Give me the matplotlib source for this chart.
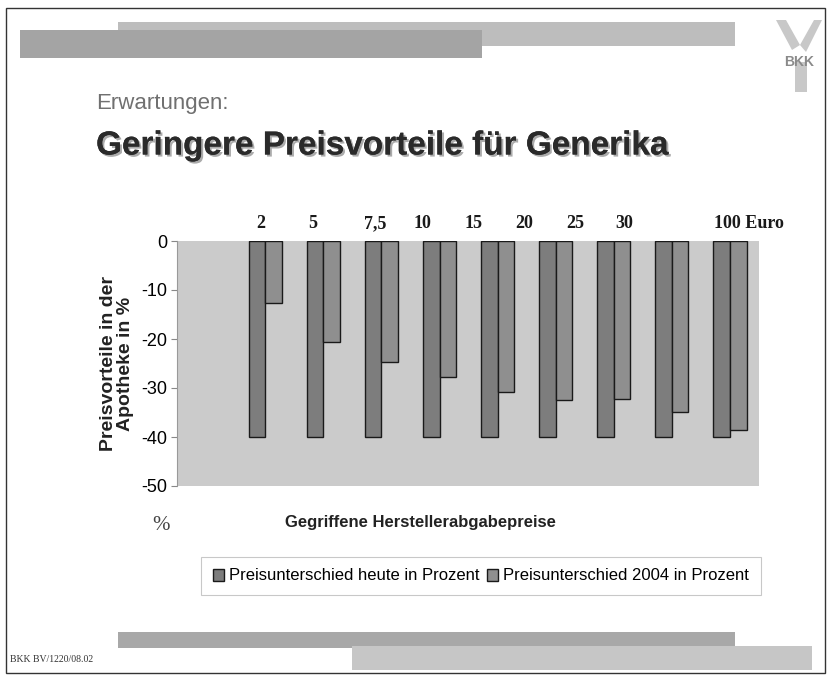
import matplotlib
matplotlib.use("Agg")
import matplotlib.pyplot as plt
import matplotlib.patches as mpatches
import matplotlib.patheffects as pe
import numpy as np

# data
preise = ["2", "5", "7,5", "10", "15", "20", "25", "30", "100 Euro"]
label_x = [-0.07, 0.81, 1.90, 2.70, 3.59, 4.45, 5.34, 6.18, 8.33]
heute = [-40, -40, -40, -40, -40, -40, -40, -40, -40]
vorteil_2004 = [-12.7, -20.7, -24.7, -27.8, -30.8, -32.5, -32.2, -34.9, -38.6]
serie_namen = ["Preisunterschied heute in Prozent", "Preisunterschied 2004 in Prozent"]

sans = "Liberation Sans"
serif = "Liberation Serif"

fig = plt.figure(figsize=(8.27, 6.75), dpi=100)
W, H = 827.0, 675.0

def fx(px):
    return px / W

def fy(py):
    return 1 - py / H

# rahmen
fig.patches.append(mpatches.Rectangle((fx(6), fy(673)), fx(819), fy(8) - fy(673),
                                      transform=fig.transFigure, fill=False, edgecolor="#333333", lw=1.0))

# deko-balken oben / unten
def band(x0, y0, x1, y1, farbe):
    fig.patches.append(mpatches.Rectangle((fx(x0), fy(y1)), fx(x1 - x0), fy(y0) - fy(y1),
                                          transform=fig.transFigure, facecolor=farbe, edgecolor="none"))

band(118, 22, 735, 46, "#bdbdbd")
band(20, 30, 482, 58, "#a4a4a4")
band(118, 632, 735, 648, "#a8a8a8")
band(352, 646, 812, 670, "#c6c6c6")

# logo
fig.patches.append(mpatches.Polygon([(fx(776), fy(20)), (fx(786), fy(20)), (fx(800), fy(45)), (fx(792), fy(50))],
                                    transform=fig.transFigure, facecolor="#c8c8c8", edgecolor="none"))
fig.patches.append(mpatches.Polygon([(fx(814), fy(20)), (fx(822), fy(20)), (fx(806), fy(52)), (fx(800), fy(45))],
                                    transform=fig.transFigure, facecolor="#c8c8c8", edgecolor="none"))
fig.patches.append(mpatches.Rectangle((fx(795), fy(92)), fx(12), fy(62) - fy(92),
                                      transform=fig.transFigure, facecolor="#c8c8c8", edgecolor="none"))
fig.text(fx(784), fy(62), "BKK", fontsize=10, color="#8a8a8a", family=sans, fontweight="bold", va="center")

# ueberschriften
fig.text(fx(96), fy(103), "Erwartungen:", fontsize=16, color="#707070", family=sans, va="center")
fig.text(fx(96), fy(146), "Geringere Preisvorteile für Generika", fontsize=24, fontweight="bold",
         color="#2a2a2a", family=sans, va="center",
         path_effects=[pe.withSimplePatchShadow(offset=(1.5, -1.5), shadow_rgbFace="#888888", alpha=0.7), pe.Normal()])

# diagramm
ax = fig.add_axes([fx(177), fy(486), fx(759 - 177), fy(241) - fy(486)])
ax.set_facecolor("#cbcbcb")
x = np.arange(len(preise))
w = 0.286
b1 = ax.bar(x - w / 2, heute, w, color="#7d7d7d", edgecolor="#1a1a1a", lw=1.0, label=serie_namen[0])
b2 = ax.bar(x + w / 2, vorteil_2004, w, color="#8f8f8f", edgecolor="#1a1a1a", lw=1.0, label=serie_namen[1])
ax.set_xlim(-1.52, 8.5)
ax.set_ylim(-50, 0)
ax.set_yticks(np.arange(-50, 1, 10))
ax.set_yticklabels([str(v) for v in range(-50, 1, 10)], family=sans, fontsize=13)
ax.set_xticks([])
ax.tick_params(axis="y", length=4, color="#888888", pad=3)
for s in ["top", "right", "bottom"]:
    ax.spines[s].set_visible(False)
ax.spines["left"].set_color("#999999")

for lx, lab in zip(label_x, preise):
    ax.text(lx, 1.07, lab, transform=ax.get_xaxis_transform(), ha="center", va="center",
            family=serif, fontweight="bold", fontsize=13, color="#1a1a1a")

ax.set_ylabel("Preisvorteile in der\nApotheke in %", family=sans, fontweight="bold", fontsize=14,
              color="#222222", labelpad=5, linespacing=1.0)

fig.text(fx(420), fy(522), "Gegriffene Herstellerabgabepreise", ha="center", va="center",
         family=sans, fontweight="bold", fontsize=12, color="#222222")
fig.text(fx(152), fy(525), "%", ha="left", va="center", family=serif, fontsize=15, color="#444444")

leg = fig.legend([b1, b2], serie_namen, loc="center", bbox_to_anchor=(fx(481), fy(576)), ncol=2,
                 frameon=True, fancybox=False, edgecolor="#bbbbbb", handlelength=0.7, handleheight=0.7,
                 handletextpad=0.3, columnspacing=0.4, borderpad=0.7,
                 prop={"family": sans, "size": 12})
leg.get_frame().set_linewidth(0.8)

fig.text(fx(10), fy(659), "BKK BV/1220/08.02", family=serif, fontsize=7, color="#333333", va="center")

fig.savefig("out.png", dpi=100, facecolor="white")
